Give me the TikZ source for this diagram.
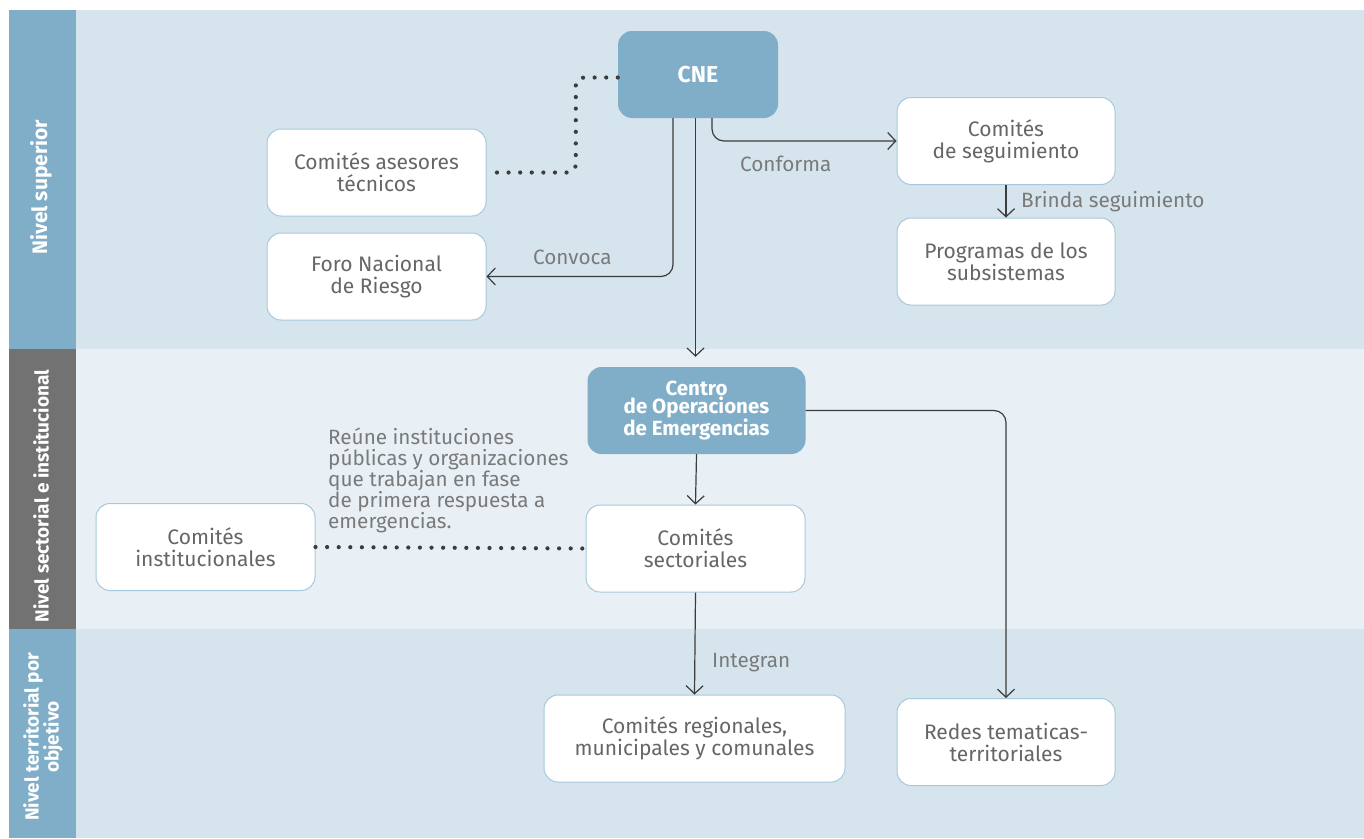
\documentclass[tikz,border=0pt]{standalone}
\usepackage{fontspec}
\setmainfont{Fira Sans}
\usetikzlibrary{arrows.meta,calc}
\definecolor{bandblue}{HTML}{80AEC8}
\definecolor{bandgray}{HTML}{727272}
\definecolor{areablue}{HTML}{D5E4ED}
\definecolor{areapale}{HTML}{E8F0F5}
\definecolor{boxborder}{HTML}{A8C8DC}
\definecolor{boxtext}{HTML}{666666}
\definecolor{lbltext}{HTML}{7A7A7A}
\definecolor{linecol}{HTML}{3C3C3C}
\begin{document}
\begin{tikzpicture}[x=1pt,y=-1pt,
  whitebox/.style={rounded corners=14pt, draw=boxborder, fill=white, line width=1pt,
    minimum width=219pt, minimum height=87pt, align=center, inner sep=0pt,
    font=\fontsize{21}{22}\selectfont, text=boxtext},
  bluebox/.style={rounded corners=14pt, fill=bandblue, draw=none,
    minimum width=218pt, minimum height=87pt, align=center, inner sep=0pt,
    font=\fontsize{20.5}{18.5}\selectfont\bfseries, text=white},
  conn/.style={draw=linecol, line width=1.2pt, rounded corners=12pt,
    -{Straight Barb[length=8pt,width=17pt,line width=1.2pt]}},
  dotline/.style={draw=linecol, line width=4.2pt, line cap=round,
    dash pattern=on 0pt off 11.6pt, rounded corners=8pt},
  lbl/.style={font=\fontsize{20.7}{21}\selectfont, text=lbltext, inner sep=0pt},
  bandlbl/.style={rotate=90, font=\fontsize{19}{20}\selectfont\bfseries, text=white, align=center, inner sep=0pt}
]
\useasboundingbox (0,0) rectangle (1364,838);
\fill[white] (0,0) rectangle (1364,838);
% bands
\fill[bandblue] (9,10) rectangle (76,349);
\fill[bandgray] (9,349) rectangle (76,629);
\fill[bandblue] (9,629) rectangle (76,838);
\fill[areablue] (76,10) rectangle (1364,349);
\fill[areapale] (76,349) rectangle (1364,629);
\fill[areablue] (76,629) rectangle (1364,838);
% band labels
\node[bandlbl, font=\fontsize{21}{20}\selectfont\bfseries] (l1) at (41,187) {Nivel superior};
\node[bandlbl] (l2) at (41,496) {Nivel sectorial e institucional};
\node[bandlbl] (l3) at (43,737) {Nivel territorial por\\objetivo};
% nodes
\node[bluebox, minimum width=160pt] (cne) at (698,74.5) {\fontsize{23}{20}\selectfont CNE};
\node[whitebox] (ases) at (376.5,172.5) {Comités asesores\\técnicos};
\node[whitebox] (foro) at (376.5,276.5) {Foro Nacional\\de Riesgo};
\node[whitebox, minimum width=218pt] (seg) at (1006,141) {Comités\\de seguimiento};
\node[whitebox, minimum width=218pt] (prog) at (1006,261.5) {Programas de los\\subsistemas};
\node[bluebox] (coe) at (696.5,410.5) {Centro\\de Operaciones\\de Emergencias};
\node[whitebox] (sec) at (695.5,548.5) {Comités\\sectoriales};
\node[whitebox] (inst) at (205.5,547) {Comités\\institucionales};
\node[whitebox, minimum width=301pt] (reg) at (694.5,738.5) {Comités regionales,\\municipales y comunales};
\node[whitebox, minimum width=218pt] (redes) at (1006,742) {Redes tematicas-\\territoriales};
% connectors
\coordinate (cv) at ($(cne.south)+(-25,0)$);
\coordinate (cm) at ($(cne.south)+(-2.5,0)$);
\coordinate (cf) at ($(cne.south)+(14,0)$);
\coordinate (cmend) at ($(cm |- coe.north)+(0,-10)$);
\draw[conn] (cv) |- (foro.east);
\draw[conn] (cm) -- (cmend);
\draw[conn] (cf) |- (seg.west);
\draw[conn] (seg.south) -- (prog.north);
\draw[conn] (coe.south) -- (sec.north);
\draw[conn] (coe.east) -| (redes.north);
\draw[conn] (sec.south) -- (reg.north);
\draw[dotline] ($(cne.west)+(0,3)$) -- ++(-42,0) |- (ases.east);
\draw[dotline] (inst.east) -- (sec.west);
% labels
\node[lbl, anchor=west] (tconf) at (740,164) {Conforma};
\node[lbl, anchor=west] (tconv) at (533,257) {Convoca};
\node[lbl, anchor=west] (tbrin) at (1021,202) {Brinda seguimiento};
\node[lbl, anchor=west] (tint) at (712,663) {Integran};
\node[lbl, anchor=north west, align=left] (treu) at (328,428) {Reúne instituciones\\públicas y organizaciones\\que trabajan en fase\\de primera respuesta a\\emergencias.};
\end{tikzpicture}
\end{document}
